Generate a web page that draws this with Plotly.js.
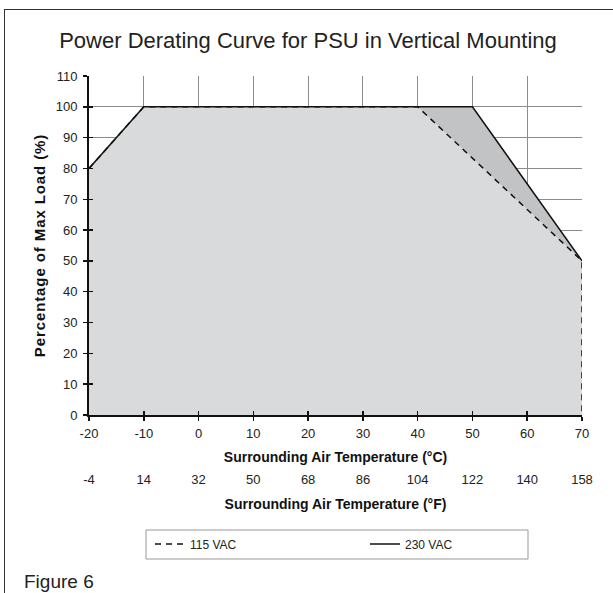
<!DOCTYPE html>
<html>
<head>
<meta charset="utf-8">
<script src="https://cdn.plot.ly/plotly-3.0.1.min.js"></script>
<style>
html,body{margin:0;padding:0;background:#fff;}
#chart{width:613px;height:593px;}
#chart .g-ytitle text{letter-spacing:0.9px;}
</style>
</head>
<body>
<div id="chart"></div>
<script>
// ---- data ----
const cTicks = [-20, -10, 0, 10, 20, 30, 40, 50, 60, 70];
const fTicks = [-4, 14, 32, 50, 68, 86, 104, 122, 140, 158];
const yTicks = [0, 10, 20, 30, 40, 50, 60, 70, 80, 90, 100, 110];
const vac115X = [-20, -10, 40, 70, 70];
const vac115Y = [80, 100, 100, 50, 0];
const vac230X = [-20, -10, 50, 70];
const vac230Y = [80, 100, 100, 50];
const cRange = [-20, 70];
const yRange = [0, 110];
const fRange = cRange.map(c => c * 1.8 + 32);

// ---- layout helpers (pixel -> paper) ----
const W = 613, H = 593;
const mL = 89, mR = 31, mT = 76, mB = 38;
const pw = W - mL - mR, ph = H - mT - mB;
const px = x => (x - mL) / pw;
const py = y => (H - mB - y) / ph;

const FONT = '"Liberation Sans", Arial, sans-serif';
const gridC = '#8c8c8c';

const traces = [
  {x: vac115X, y: vac115Y, type: 'scatter', mode: 'lines', fill: 'tozeroy',
   fillcolor: '#d9dadb', line: {width: 0}, showlegend: false, hoverinfo: 'skip'},
  {x: vac230X, y: vac230Y, type: 'scatter', mode: 'lines', fill: 'tonexty',
   fillcolor: '#c2c3c5', line: {width: 0}, showlegend: false, hoverinfo: 'skip'},
  {x: vac115X, y: vac115Y, type: 'scatter', mode: 'lines', name: '115 VAC',
   line: {color: '#111', width: 1.5, dash: '6px,5px'}},
  {x: vac230X, y: vac230Y, type: 'scatter', mode: 'lines', name: '230 VAC',
   line: {color: '#111', width: 1.5}},
  {x: [], y: [], xaxis: 'x2', yaxis: 'y', showlegend: false, type: 'scatter'},
  {x: [], y: [], xaxis: 'x3', yaxis: 'y', showlegend: false, type: 'scatter'},
  {x: [], y: [], xaxis: 'x', yaxis: 'y2', showlegend: false, type: 'scatter'}
];

const layout = {
  width: W, height: H,
  margin: {l: mL, r: mR, t: mT, b: mB, pad: 0},
  paper_bgcolor: '#fff', plot_bgcolor: '#fff',
  font: {family: FONT, size: 13, color: '#222'},
  title: {text: 'Power Derating Curve for PSU in Vertical Mounting',
          font: {family: FONT, size: 22, color: '#222'},
          xref: 'container', yref: 'container', x: 308 / W, xanchor: 'center',
          y: 1 - 40 / H, yanchor: 'middle'},
  showlegend: true,
  legend: {orientation: 'h', x: px(150), y: py(544), xanchor: 'left', yanchor: 'middle',
           bgcolor: 'rgba(0,0,0,0)', borderwidth: 0, font: {size: 12, color: '#222'},
           entrywidth: 170, entrywidthmode: 'pixels', traceorder: 'normal'},
  xaxis: {range: cRange, tickvals: cTicks, ticktext: cTicks.map(String),
          ticks: 'outside', ticklen: 4, tickwidth: 1.5, ticklabelstandoff: 1,
          tickcolor: '#111', showline: true, linecolor: '#111', linewidth: 2,
          showgrid: true, gridcolor: gridC, gridwidth: 1, zeroline: false,
          domain: [0, 1], anchor: 'y', automargin: false,
          title: {text: '<b>Surrounding Air Temperature (°C)</b>', standoff: 13,
                  font: {size: 14, color: '#111'}}},
  xaxis2: {range: fRange, tickvals: fTicks, ticktext: fTicks.map(String),
           overlaying: 'x', anchor: 'free',
           position: py(463), side: 'bottom', ticks: 'outside', ticklen: 4,
           tickcolor: 'rgba(0,0,0,0)', showline: false, showgrid: false, zeroline: false,
           automargin: false,
           title: {text: '<b>Surrounding Air Temperature (°F)</b>', standoff: 13,
                   font: {size: 14, color: '#111'}}},
  xaxis3: {range: cRange, tickvals: cTicks, overlaying: 'x', anchor: 'y', side: 'bottom',
           ticks: 'inside', ticklen: 4, tickwidth: 1.5, tickcolor: '#111',
           showticklabels: false, showline: false, showgrid: false, zeroline: false},
  yaxis: {range: yRange, tickvals: yTicks, ticks: 'outside', ticklen: 4, tickwidth: 1.5,
          ticklabelstandoff: 3,
          tickcolor: '#111', showline: true, linecolor: '#111', linewidth: 2,
          showgrid: true, gridcolor: gridC, gridwidth: 1, zeroline: false,
          domain: [py(415), 1], anchor: 'x', automargin: false,
          title: {text: '<b>Percentage of Max Load (%)</b>', standoff: 6,
                  font: {size: 15, color: '#111'}}},
  yaxis2: {range: yRange, tickvals: yTicks, overlaying: 'y', anchor: 'x', side: 'left',
           ticks: 'inside', ticklen: 4, tickwidth: 1.5, tickcolor: '#111',
           showticklabels: false, showline: false, showgrid: false, zeroline: false},
  shapes: [
    {type: 'line', xref: 'paper', yref: 'paper', x0: px(4), x1: px(613), y0: py(9.5), y1: py(9.5),
     line: {color: '#333', width: 1}},
    {type: 'line', xref: 'paper', yref: 'paper', x0: px(4.5), x1: px(4.5), y0: py(9), y1: py(593),
     line: {color: '#333', width: 1}},
    {type: 'rect', xref: 'paper', yref: 'paper', x0: px(146), x1: px(528), y0: py(559), y1: py(530),
     line: {color: '#999', width: 1}, fillcolor: 'rgba(0,0,0,0)'}
  ],
  annotations: [
    {text: 'Figure 6', xref: 'paper', yref: 'paper', x: px(22), y: py(581.5),
     xanchor: 'left', yanchor: 'middle', showarrow: false,
     font: {family: FONT, size: 19, color: '#222'}}
  ]
};

Plotly.newPlot('chart', traces, layout, {displayModeBar: false, staticPlot: true});
</script>
</body>
</html>
